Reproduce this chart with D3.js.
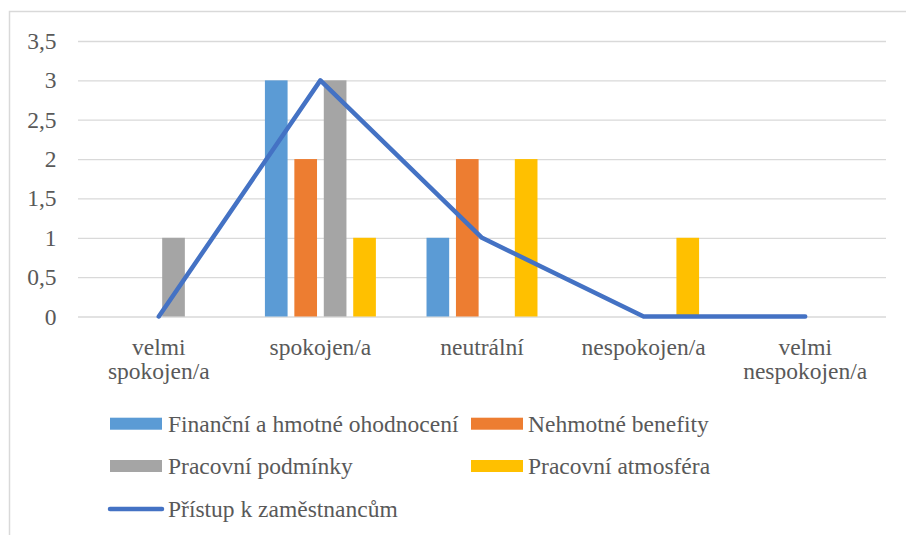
<!DOCTYPE html>
<html>
<head>
<meta charset="utf-8">
<script src="https://cdn.jsdelivr.net/npm/d3@7/dist/d3.min.js"></script>
<style>
  html, body { margin: 0; padding: 0; background: #fff; }
</style>
</head>
<body>
<div id="chart"></div>
<script>
// 数据
const categories = ["velmi spokojen/a", "spokojen/a", "neutrální", "nespokojen/a", "velmi nespokojen/a"];
const categoryLines = [["velmi", "spokojen/a"], ["spokojen/a"], ["neutrální"], ["nespokojen/a"], ["velmi", "nespokojen/a"]];
const barSeries = ["Finanční a hmotné ohodnocení", "Nehmotné benefity", "Pracovní podmínky", "Pracovní atmosféra"];
const financniValues = [0, 3, 1, 0, 0];
const nehmotneValues = [0, 2, 2, 0, 0];
const podminkyValues = [1, 3, 0, 0, 0];
const atmosferaValues = [0, 1, 2, 1, 0];
const lineSeries = "Přístup k zaměstnancům";
const pristupValues = [0, 3, 1, 0, 0];
const yTicks = [0, 0.5, 1, 1.5, 2, 2.5, 3, 3.5];
const yTickLabels = ["0", "0,5", "1", "1,5", "2", "2,5", "3", "3,5"];

const barValues = [financniValues, nehmotneValues, podminkyValues, atmosferaValues];
const barColors = ["#5B9BD5", "#ED7D31", "#A5A5A5", "#FFC000"];
const lineColor = "#4472C4";

const width = 906, height = 535;
const plot = { left: 78, right: 886, top: 41, bottom: 316.5 };
const fontSize = 23.5;
const fontFamily = "'Liberation Serif', 'Times New Roman', serif";
const textColor = "#595959";

const svg = d3.select("#chart").append("svg")
    .attr("width", width)
    .attr("height", height);

// 图表边框
svg.append("rect")
    .attr("x", 9.5).attr("y", 11.5)
    .attr("width", 1000).attr("height", 600)
    .attr("fill", "none")
    .attr("stroke", "#d9d9d9")
    .attr("stroke-width", 1.5);

// 比例尺
const x0 = d3.scaleBand()
    .domain(categories)
    .range([plot.left, plot.right])
    .padding(0);

const x1 = d3.scaleBand()
    .domain(barSeries)
    .range([0, x0.bandwidth()])
    .paddingInner(0.23)
    .paddingOuter(0.86);

const y = d3.scaleLinear()
    .domain([0, 3.5])
    .range([plot.bottom, plot.top]);

// 网格线 + Y轴
const yAxis = svg.append("g")
    .attr("transform", `translate(${plot.left}, 0)`)
    .call(d3.axisLeft(y)
        .tickValues(yTicks)
        .tickSize(-(plot.right - plot.left))
        .tickPadding(21.5)
        .tickFormat((d, i) => yTickLabels[i]));
yAxis.select(".domain").remove();
yAxis.selectAll(".tick line")
    .attr("stroke", "#d9d9d9")
    .attr("stroke-width", 1.3);
yAxis.selectAll(".tick text")
    .style("font-family", fontFamily)
    .style("font-size", fontSize + "px")
    .attr("fill", textColor);

// 柱子
barSeries.forEach((s, si) => {
    svg.append("g")
        .selectAll("rect")
        .data(barValues[si])
        .enter()
        .append("rect")
        .attr("x", (d, i) => x0(categories[i]) + x1(s))
        .attr("y", d => y(d))
        .attr("width", x1.bandwidth())
        .attr("height", d => y(0) - y(d))
        .attr("fill", barColors[si]);
});

// 折线
const line = d3.line()
    .x((d, i) => x0(categories[i]) + x0.bandwidth() / 2)
    .y(d => y(d));

svg.append("path")
    .datum(pristupValues)
    .attr("fill", "none")
    .attr("stroke", lineColor)
    .attr("stroke-width", 4.5)
    .attr("stroke-linejoin", "round")
    .attr("stroke-linecap", "round")
    .attr("d", line);

// X轴标签
const xLabels = svg.append("g")
    .selectAll("text")
    .data(categoryLines)
    .enter()
    .append("text")
    .attr("x", (d, i) => x0(categories[i]) + x0.bandwidth() / 2)
    .attr("y", 354.5)
    .attr("text-anchor", "middle")
    .style("font-family", fontFamily)
    .style("font-size", fontSize + "px")
    .attr("fill", textColor);
xLabels.selectAll("tspan")
    .data((d, i) => d.map(t => ({ t, cx: x0(categories[i]) + x0.bandwidth() / 2 })))
    .enter()
    .append("tspan")
    .attr("x", d => d.cx)
    .attr("dy", (d, i) => i === 0 ? 0 : 24)
    .text(d => d.t);

// 图例
const legendItems = [
    { name: barSeries[0], color: barColors[0], type: "bar", sx: 110, tx: 168, cy: 423.7 },
    { name: barSeries[1], color: barColors[1], type: "bar", sx: 471, tx: 528, cy: 423.7 },
    { name: barSeries[2], color: barColors[2], type: "bar", sx: 110, tx: 168, cy: 466 },
    { name: barSeries[3], color: barColors[3], type: "bar", sx: 471, tx: 528, cy: 466 },
    { name: lineSeries, color: lineColor, type: "line", sx: 110, tx: 168, cy: 509 }
];

const legend = svg.append("g");
legendItems.forEach(item => {
    if (item.type === "bar") {
        legend.append("rect")
            .attr("x", item.sx)
            .attr("y", item.cy - 6)
            .attr("width", 52)
            .attr("height", 12)
            .attr("fill", item.color);
    } else {
        legend.append("line")
            .attr("x1", item.sx)
            .attr("x2", item.sx + 52)
            .attr("y1", item.cy)
            .attr("y2", item.cy)
            .attr("stroke", item.color)
            .attr("stroke-width", 4.5)
            .attr("stroke-linecap", "round");
    }
    legend.append("text")
        .attr("x", item.tx)
        .attr("y", item.cy)
        .attr("dy", "0.35em")
        .style("font-family", fontFamily)
        .style("font-size", fontSize + "px")
        .attr("fill", textColor)
        .text(item.name);
});
</script>
</body>
</html>
